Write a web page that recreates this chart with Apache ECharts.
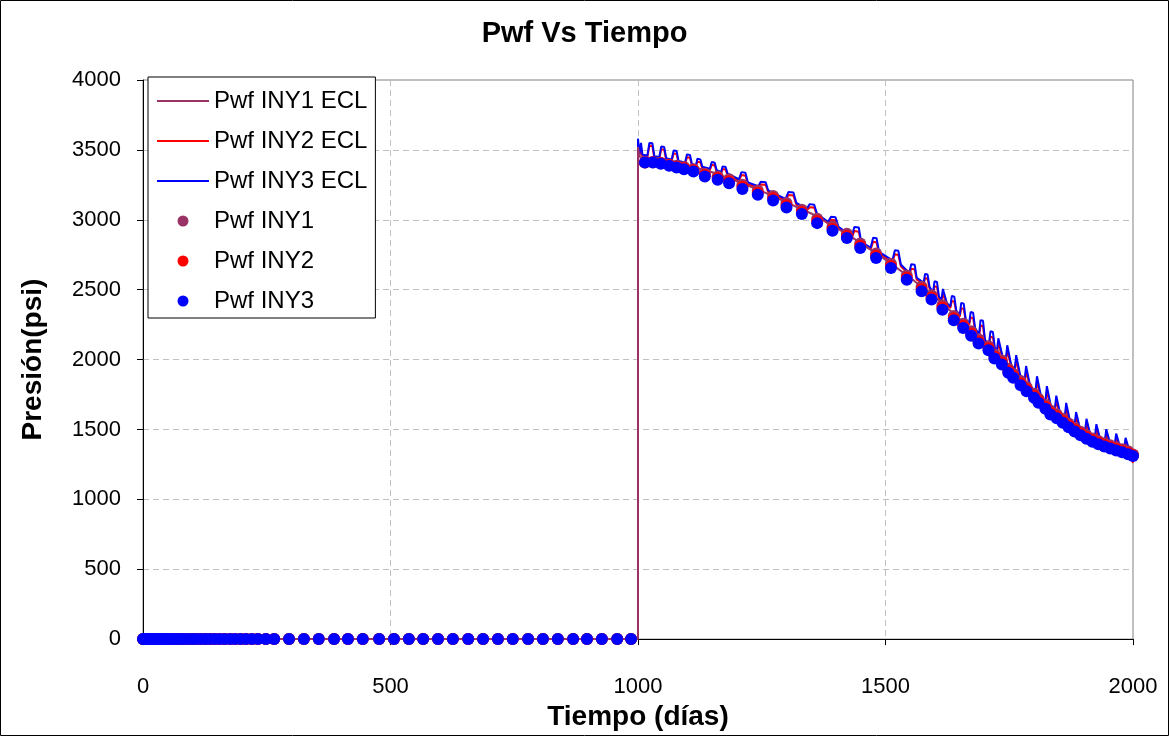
<!DOCTYPE html>
<html>
<head>
<meta charset="utf-8">
<script src="https://cdn.jsdelivr.net/npm/echarts@6/dist/echarts.min.js"></script>
<style>
html,body{margin:0;padding:0;background:#fff;}
#chart{width:1169px;height:736px;}
</style>
</head>
<body>
<div id="chart"></div>
<script>
// ---- Data ----
const xTicks = [0, 500, 1000, 1500, 2000];
const yTicks = [0, 500, 1000, 1500, 2000, 2500, 3000, 3500, 4000];

// ECL simulated lines (INY2 red and INY3 blue share the same time points)
const lineDays = [
  1000, 1000, 1003, 1006, 1009,
  1019, 1023, 1029, 1033,
  1043, 1047, 1053, 1057,
  1068, 1072, 1078, 1082,
  1095, 1099, 1105, 1109,
  1117, 1120, 1126, 1130,
  1145, 1149, 1155, 1159,
  1168, 1171, 1177, 1181,
  1204, 1209, 1217, 1222,
  1243, 1248, 1258, 1263,
  1298, 1304, 1314, 1320,
  1341, 1347, 1356, 1362,
  1384, 1390, 1399, 1405,
  1432, 1437, 1446, 1451,
  1470, 1475, 1482, 1487,
  1514, 1519, 1526, 1531,
  1548, 1552, 1559, 1563,
  1577, 1580, 1585, 1589,
  1596, 1599, 1604, 1608,
  1613, 1616, 1620, 1624,
  1631, 1634, 1639, 1643,
  1650, 1653, 1658, 1662,
  1669, 1672, 1677, 1681,
  1689, 1692, 1697, 1701,
  1709, 1712, 1717, 1721,
  1725, 1728, 1732, 1736,
  1743, 1746, 1750, 1754,
  1761, 1764, 1768, 1772,
  1781, 1784, 1788, 1792,
  1803, 1806, 1810, 1814,
  1823, 1826, 1830, 1834,
  1842, 1845, 1849, 1853,
  1862, 1865, 1869, 1873,
  1882, 1885, 1889, 1893,
  1903, 1906, 1910, 1914,
  1923, 1926, 1930, 1934,
  1943, 1946, 1950, 1954,
  1963, 1966, 1970, 1974,
  1982, 1985, 1989, 1993,
  2000
];
const pwfIny3Ecl = [
  0, 3580, 3470, 3550, 3465,
  3460, 3550, 3548, 3455,
  3450, 3525, 3520, 3440,
  3432, 3496, 3492, 3420,
  3410, 3468, 3464, 3398,
  3390, 3436, 3432, 3380,
  3365, 3413, 3408, 3355,
  3343, 3382, 3378, 3330,
  3290, 3341, 3336, 3268,
  3240, 3272, 3268, 3210,
  3150, 3199, 3195, 3120,
  3080, 3112, 3108, 3040,
  2985, 3022, 3018, 2950,
  2880, 2949, 2945, 2840,
  2800, 2872, 2868, 2770,
  2710, 2782, 2778, 2680,
  2620, 2682, 2678, 2585,
  2550, 2612, 2608, 2520,
  2480, 2560, 2555, 2450,
  2430, 2505, 2500, 2405,
  2380, 2455, 2450, 2350,
  2320, 2405, 2400, 2290,
  2260, 2340, 2335, 2225,
  2180, 2282, 2277, 2140,
  2110, 2202, 2197, 2080,
  2060, 2152, 2147, 2030,
  2000, 2102, 2097, 1960,
  1930, 2032, 2027, 1890,
  1850, 1954, 1949, 1815,
  1770, 1880, 1875, 1740,
  1700, 1810, 1805, 1670,
  1640, 1742, 1737, 1610,
  1580, 1690, 1685, 1555,
  1530, 1624, 1619, 1505,
  1485, 1576, 1571, 1460,
  1445, 1538, 1533, 1425,
  1415, 1502, 1497, 1398,
  1390, 1470, 1465, 1372,
  1365, 1440, 1435, 1345,
  1280
];
const pwfIny2Ecl = [
  0, 3540, 3455, 3520, 3450,
  3448, 3530, 3527, 3442,
  3438, 3505, 3501, 3428,
  3420, 3475, 3471, 3408,
  3398, 3447, 3443, 3386,
  3378, 3415, 3411, 3368,
  3353, 3393, 3389, 3343,
  3331, 3363, 3359, 3318,
  3278, 3320, 3315, 3256,
  3228, 3253, 3250, 3198,
  3138, 3177, 3173, 3108,
  3068, 3090, 3087, 3028,
  2973, 3000, 2997, 2938,
  2868, 2920, 2915, 2828,
  2788, 2843, 2838, 2758,
  2698, 2753, 2748, 2668,
  2608, 2650, 2645, 2573,
  2538, 2583, 2578, 2508,
  2468, 2525, 2519, 2438,
  2418, 2470, 2464, 2393,
  2368, 2420, 2414, 2338,
  2308, 2368, 2362, 2278,
  2248, 2302, 2296, 2213,
  2168, 2244, 2238, 2128,
  2098, 2164, 2158, 2068,
  2048, 2114, 2108, 2018,
  1988, 2064, 2058, 1948,
  1918, 1994, 1988, 1878,
  1838, 1916, 1910, 1803,
  1758, 1842, 1836, 1728,
  1688, 1772, 1766, 1658,
  1628, 1704, 1698, 1598,
  1568, 1652, 1646, 1543,
  1518, 1588, 1582, 1493,
  1473, 1540, 1534, 1448,
  1433, 1502, 1496, 1413,
  1403, 1467, 1461, 1386,
  1378, 1435, 1429, 1360,
  1353, 1406, 1400, 1333,
  1260
];
const iny1EclDays = [0, 1000, 1000, 1003, 1020, 1050, 1100, 1150, 1200, 1250, 1300, 1350, 1400, 1450, 1500, 1550, 1600, 1650, 1700, 1750, 1800, 1850, 1900, 1950, 2000];
const pwfIny1Ecl = [0, 0, 3520, 3450, 3445, 3425, 3390, 3340, 3275, 3205, 3125, 3045, 2945, 2835, 2715, 2585, 2445, 2290, 2120, 1945, 1770, 1610, 1480, 1400, 1300];

// Measured points: shut-in period (pressure zero) and injection period
const shutDays = [0,1,2,3,4,5,6,7,8,9,10,11,12,13,14,15,17,19,21,24,27,30,34,38,42,46,50,55,60,66,72,78,85,92,100,108,117,126,135,145,155,165,176,186,197,208,220,232,248,265,295,325,355,386,414,444,477,507,537,566,596,626,657,687,717,747,778,808,838,869,897,927,958,986];
const shutPwf = [0,0,0,0,0,0,0,0,0,0,0,0,0,0,0,0,0,0,0,0,0,0,0,0,0,0,0,0,0,0,0,0,0,0,0,0,0,0,0,0,0,0,0,0,0,0,0,0,0,0,0,0,0,0,0,0,0,0,0,0,0,0,0,0,0,0,0,0,0,0,0,0,0,0];
const injDays = [1014,1030,1046,1063,1078,1093,1112,1135,1161,1184,1211,1242,1273,1300,1331,1362,1393,1422,1449,1481,1511,1543,1573,1593,1615,1638,1657,1673,1688,1708,1720,1735,1748,1758,1773,1785,1800,1809,1823,1833,1846,1858,1870,1882,1894,1906,1918,1930,1942,1954,1966,1978,1990,2000];
const pwfIny3 = [3409,3409,3400,3386,3374,3362,3345,3309,3286,3262,3221,3179,3138,3088,3041,2976,2921,2869,2798,2726,2655,2571,2488,2429,2357,2281,2226,2171,2114,2066,2007,1964,1905,1869,1816,1774,1726,1691,1648,1607,1580,1548,1515,1486,1458,1434,1412,1394,1378,1363,1350,1337,1322,1310];
const pwfIny2 = [3410,3411,3404,3391,3380,3370,3354,3320,3298,3276,3236,3194,3154,3104,3056,2992,2936,2884,2814,2742,2670,2586,2504,2444,2372,2296,2241,2186,2129,2081,2022,1979,1920,1884,1831,1789,1741,1706,1662,1621,1594,1562,1529,1499,1471,1446,1424,1406,1390,1375,1361,1348,1333,1315];
const pwfIny1 = [3412,3414,3408,3396,3386,3378,3362,3330,3310,3290,3250,3210,3170,3120,3072,3008,2952,2900,2830,2758,2686,2602,2520,2460,2388,2312,2257,2202,2145,2096,2037,1994,1935,1899,1846,1804,1756,1720,1677,1636,1608,1576,1542,1512,1484,1459,1436,1418,1401,1386,1372,1359,1344,1320];

const names = ['Pwf INY1 ECL', 'Pwf INY2 ECL', 'Pwf INY3 ECL', 'Pwf INY1', 'Pwf INY2', 'Pwf INY3'];
const colors = ['#993366', '#FF0000', '#0000FF'];

// ---- Build ----
const pairs = (xs, ys) => xs.map((x, i) => [x, ys[i]]);
const measured = (vals) => pairs(shutDays, shutPwf).concat(pairs(injDays, vals));
const FONT = 'Arial, "Liberation Sans", sans-serif';
const LINE_ICON = 'path://M0,0H52V2H0Z';

const lineSeries = (name, data, color) => ({
  name, type: 'line', data, symbol: 'none', showSymbol: false,
  lineStyle: { color, width: 2 }, itemStyle: { color },
  emphasis: { disabled: true }, z: 2
});
const dotSeries = (name, data, color) => ({
  name, type: 'scatter', data, symbol: 'circle', symbolSize: 12,
  itemStyle: { color, opacity: 1 }, emphasis: { disabled: true }, z: 3
});

const chart = echarts.init(document.getElementById('chart'), null, { renderer: 'canvas' });
chart.setOption({
  animation: false,
  backgroundColor: '#fff',
  textStyle: { fontFamily: FONT },
  title: {
    text: 'Pwf Vs Tiempo', left: 'center', top: 14,
    textStyle: { fontFamily: FONT, fontSize: 29, fontWeight: 'bold', color: '#000' }
  },
  graphic: [{
    type: 'rect', shape: { x: 0.5, y: 0.5, width: 1168, height: 735 },
    style: { fill: 'none', stroke: '#000', lineWidth: 1 }, silent: true, z: 0
  }],
  grid: { left: 143, right: 36, top: 80, bottom: 96, show: true, borderColor: '#808080', borderWidth: 1, backgroundColor: 'transparent' },
  legend: {
    orient: 'vertical', left: 148, top: 77,
    itemWidth: 52, itemHeight: 11, itemGap: 16, itemTextGap: 7,
    padding: [12, 8, 5, 9],
    borderColor: '#000', borderWidth: 1, backgroundColor: '#fff',
    textStyle: { fontFamily: FONT, fontSize: 24, color: '#000' },
    data: [
      { name: names[0], icon: LINE_ICON }, { name: names[1], icon: LINE_ICON }, { name: names[2], icon: LINE_ICON },
      { name: names[3], icon: 'circle' }, { name: names[4], icon: 'circle' }, { name: names[5], icon: 'circle' }
    ],
    selectedMode: false
  },
  xAxis: {
    type: 'value', min: xTicks[0], max: xTicks[xTicks.length - 1], interval: 500,
    name: 'Tiempo (días)', nameLocation: 'middle', nameGap: 55,
    nameTextStyle: { fontFamily: FONT, fontSize: 28, fontWeight: 'bold', color: '#000' },
    axisLine: { show: true, onZero: false, lineStyle: { color: '#000', width: 1 } },
    axisTick: { show: true, inside: false, length: 6, lineStyle: { color: '#000' } },
    axisLabel: { fontFamily: FONT, fontSize: 22, color: '#000', margin: 37, formatter: v => String(v) },
    splitLine: { show: true, lineStyle: { color: '#c0c0c0', type: [6, 4], width: 1 } }
  },
  yAxis: {
    type: 'value', min: yTicks[0], max: yTicks[yTicks.length - 1], interval: 500,
    name: 'Presión(psi)', nameLocation: 'middle', nameGap: 96, nameRotate: 90,
    nameTextStyle: { fontFamily: FONT, fontSize: 28, fontWeight: 'bold', color: '#000' },
    axisLine: { show: true, onZero: false, lineStyle: { color: '#000', width: 1 } },
    axisTick: { show: true, inside: false, length: 6, lineStyle: { color: '#000' } },
    axisLabel: { fontFamily: FONT, fontSize: 22, color: '#000', margin: 22, formatter: v => String(v) },
    splitLine: { show: true, lineStyle: { color: '#c0c0c0', type: [6, 4], width: 1 } }
  },
  series: [
    lineSeries(names[1], pairs(lineDays, pwfIny2Ecl), colors[1]),
    lineSeries(names[2], pairs(lineDays, pwfIny3Ecl), colors[2]),
    lineSeries(names[0], pairs(iny1EclDays, pwfIny1Ecl), colors[0]),
    dotSeries(names[3], measured(pwfIny1), colors[0]),
    dotSeries(names[4], measured(pwfIny2), colors[1]),
    dotSeries(names[5], measured(pwfIny3), colors[2])
  ]
});
</script>
</body>
</html>
